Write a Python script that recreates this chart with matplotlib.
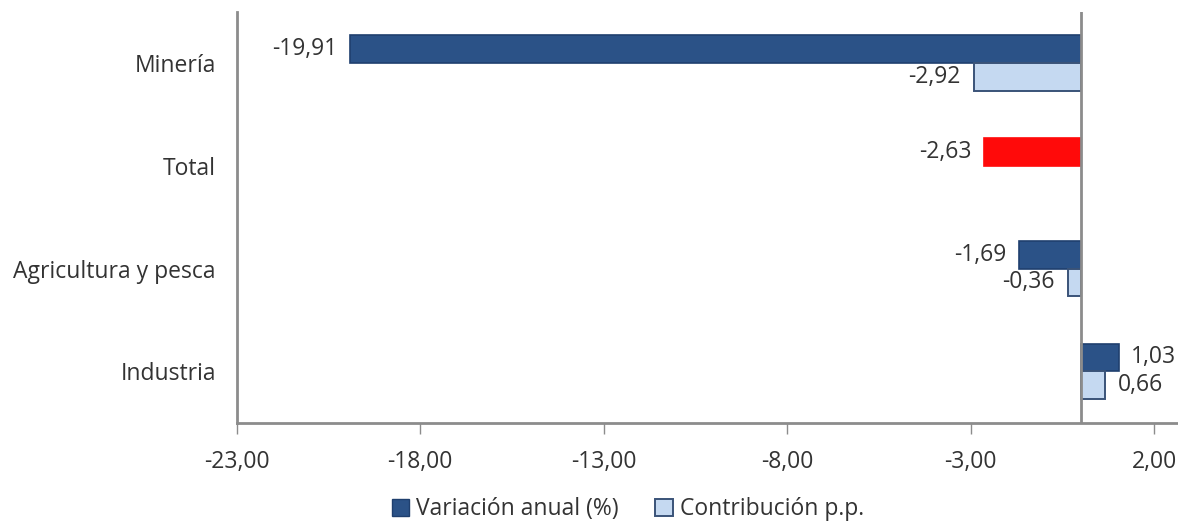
import numpy as np
import matplotlib
matplotlib.use("Agg")
import matplotlib.pyplot as plt

plt.rcParams["font.family"] = ["Open Sans", "DejaVu Sans"]

sectors = ["Minería", "Total", "Agricultura y pesca", "Industria"]
variacion = [-19.91, -2.63, -1.69, 1.03]
contribucion = [-2.92, np.nan, -0.36, 0.66]
var_colors = ["#2B5287", "#FF0A0A", "#2B5287", "#2B5287"]
var_edges = ["#1F3F6E", "#FF0A0A", "#1F3F6E", "#1F3F6E"]

LIGHT = "#C5D9F1"
DARK = "#2B5287"
GREY = "#8C8C8C"
FS = 16.5


def fmt(v):
    return f"{v:.2f}".replace(".", ",")


fig = plt.figure(figsize=(11.78, 5.27), dpi=100)
ax = fig.add_axes([0.201, 0.198, 0.799, 0.78])

y = np.arange(len(sectors))
h = 0.27
ax.barh(y - h / 2, variacion, height=h, color=var_colors,
        edgecolor=var_edges, linewidth=1.2, zorder=2)
ax.barh(y + h / 2, contribucion, height=h, color=LIGHT,
        edgecolor="#3A5378", linewidth=1.4, zorder=2)

for yi, v in zip(y, variacion):
    off = -0.35 if v < 0 else 0.35
    ax.text(v + off, yi - h / 2, fmt(v), ha="right" if v < 0 else "left",
            va="center", fontsize=FS, color="#333333")
for yi, v in zip(y, contribucion):
    if np.isnan(v):
        continue
    off = -0.35 if v < 0 else 0.35
    ax.text(v + off, yi + h / 2, fmt(v), ha="right" if v < 0 else "left",
            va="center", fontsize=FS, color="#333333")

ax.axvline(0, color=GREY, lw=2, zorder=3)

ax.set_xlim(-23, 2.65)
ax.set_ylim(3.5, -0.5)
ax.set_xticks(np.arange(-23, 3, 5))
ax.set_xticklabels([fmt(t) for t in np.arange(-23, 3, 5)], fontsize=FS,
                   color="#333333")
ax.set_yticks(y)
ax.set_yticklabels(sectors, fontsize=FS, color="#333333")
ax.tick_params(axis="y", length=0, pad=15)
ax.tick_params(axis="x", length=8, width=1, color=GREY, pad=12)

for s in ["top", "right"]:
    ax.spines[s].set_visible(False)
for s in ["left", "bottom"]:
    ax.spines[s].set_color(GREY)
    ax.spines[s].set_linewidth(2)

handles = [
    plt.Rectangle((0, 0), 1, 1, facecolor=DARK, edgecolor="#1F3F6E"),
    plt.Rectangle((0, 0), 1, 1, facecolor=LIGHT, edgecolor="#3A5378", linewidth=1.4),
]
fig.legend(handles, ["Variación anual (%)", "Contribución p.p."],
           loc="lower center", bbox_to_anchor=(0.533, -0.028), ncol=2,
           frameon=False, fontsize=FS, handlelength=0.75, handleheight=0.75,
           handletextpad=0.3, columnspacing=1.6, labelcolor="#333333")

fig.savefig("out.png", dpi=100)
